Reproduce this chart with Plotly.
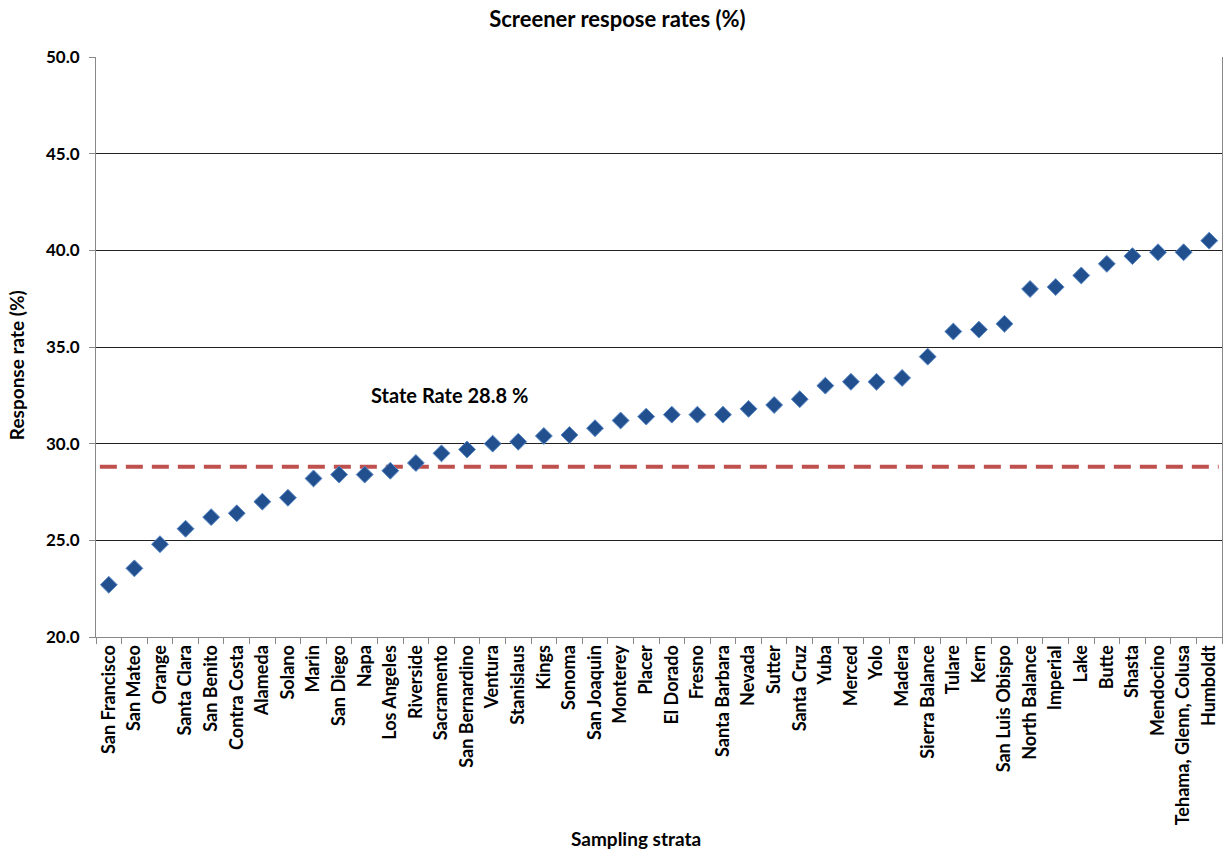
import plotly.graph_objects as go

strata = [
    "San Francisco", "San Mateo", "Orange", "Santa Clara", "San Benito",
    "Contra Costa", "Alameda", "Solano", "Marin", "San Diego", "Napa",
    "Los Angeles", "Riverside", "Sacramento", "San Bernardino", "Ventura",
    "Stanislaus", "Kings", "Sonoma", "San Joaquin", "Monterey", "Placer",
    "El Dorado", "Fresno", "Santa Barbara", "Nevada", "Sutter", "Santa Cruz",
    "Yuba", "Merced", "Yolo", "Madera", "Sierra Balance", "Tulare", "Kern",
    "San Luis Obispo", "North Balance", "Imperial", "Lake", "Butte", "Shasta",
    "Mendocino", "Tehama, Glenn, Colusa", "Humboldt",
]
response_rate = [
    22.7, 23.55, 24.8, 25.6, 26.2,
    26.4, 27.0, 27.2, 28.2, 28.4, 28.4,
    28.6, 29.0, 29.5, 29.7, 30.0,
    30.1, 30.4, 30.45, 30.8, 31.2, 31.4,
    31.5, 31.5, 31.5, 31.8, 32.0, 32.3,
    33.0, 33.2, 33.2, 33.4, 34.5, 35.8, 35.9,
    36.2, 38.0, 38.1, 38.7, 39.3, 39.7,
    39.9, 39.9, 40.5,
]
state_rate = 28.8
y_ticks = [20, 25, 30, 35, 40, 45, 50]

FONT = "Lato, 'Open Sans', Arial, sans-serif"

fig = go.Figure()

# Per-stratum response rates
fig.add_trace(go.Scatter(
    x=strata, y=response_rate, mode="markers",
    marker=dict(symbol="diamond", size=13, color="#22508E",
                line=dict(color="#5B8BC9", width=1)),
    showlegend=False,
))

# State-wide reference line spanning nearly the full plot width
fig.add_shape(
    type="line", xref="x", yref="y",
    x0=-0.35, x1=len(strata) - 0.63, y0=state_rate, y1=state_rate,
    line=dict(color="#C0504D", width=4, dash="17px,9px"),
    layer="below",
)

fig.add_annotation(
    x=13.3, y=32.5, xref="x", yref="y",
    text=f"<b>State Rate {state_rate} %</b>", showarrow=False,
    font=dict(family=FONT, size=20, color="#000"),
)

fig.update_layout(
    width=1225, height=853,
    margin=dict(l=96, r=3, t=57, b=216),
    paper_bgcolor="white", plot_bgcolor="white",
    font=dict(family=FONT, color="#000"),
    title=dict(text="<b>Screener respose rates (%)</b>", x=0.504, xanchor="center",
               y=0.977, yanchor="middle", font=dict(size=22, family=FONT)),
)

fig.update_xaxes(
    type="category", categoryorder="array", categoryarray=strata,
    range=[-0.5, len(strata) - 0.5],
    tickangle=-90, tickfont=dict(size=18, family=FONT, weight="bold"),
    ticks="outside", tickson="boundaries", ticklen=6, tickcolor="#888",
    showline=True, linecolor="#888", linewidth=1, mirror=False,
    showgrid=False, zeroline=False,
    automargin=False,
)
fig.add_annotation(
    x=0.48, y=-0.37, xref="paper", yref="paper", showarrow=False,
    text="<b>Sampling strata</b>", font=dict(size=19, family=FONT),
)

fig.update_yaxes(
    range=[20, 50], tickvals=y_ticks, ticktext=[f"{v:.1f}" for v in y_ticks],
    tickfont=dict(size=17, family=FONT, weight="bold"),
    ticks="outside", ticklen=6, tickcolor="#888", ticklabelstandoff=6,
    showline=True, linecolor="#888", linewidth=1, mirror=True,
    showgrid=True, gridcolor="#222", gridwidth=1, zeroline=False,
    automargin=False,
)
fig.add_annotation(
    x=-0.082, y=0.469, xref="paper", yref="paper", showarrow=False,
    text="<b>Response rate (%)</b>", textangle=-90,
    font=dict(size=19, family=FONT),
)

fig.write_html("out.html")
